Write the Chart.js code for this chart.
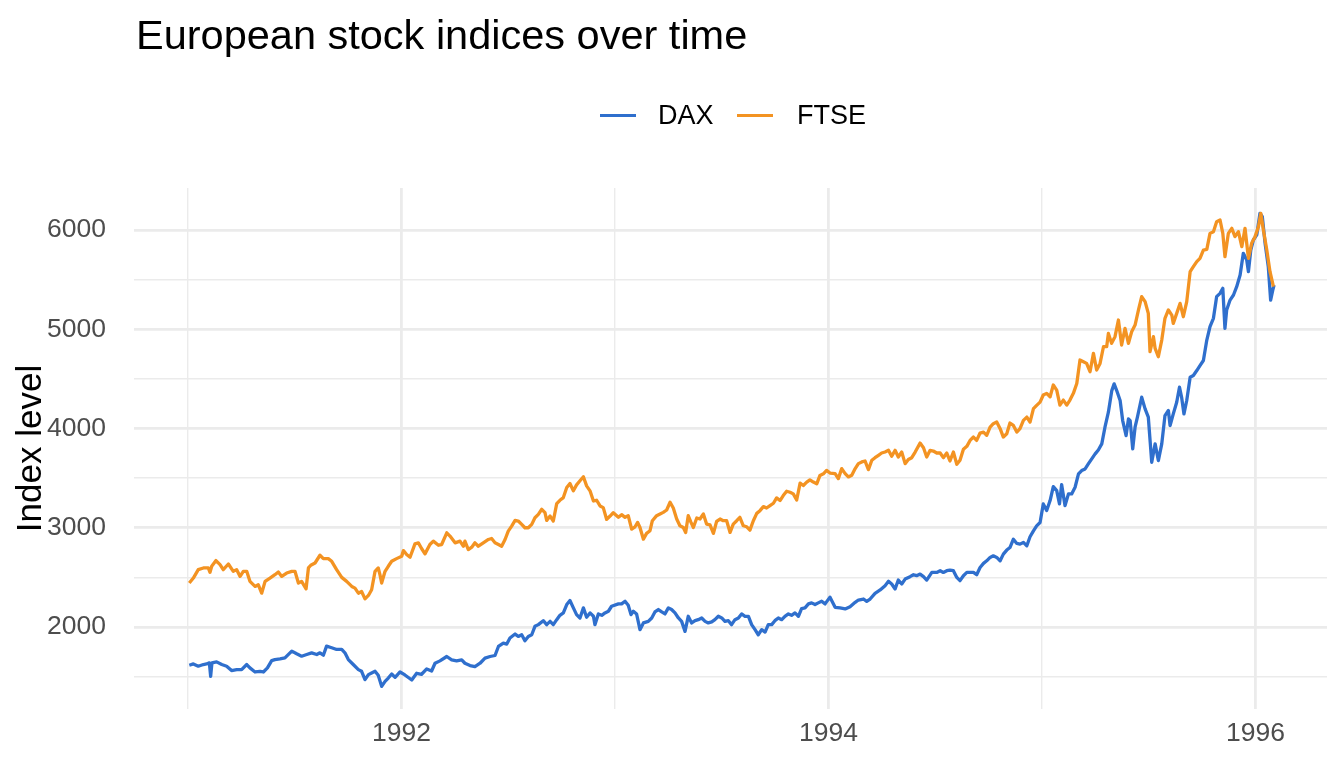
<!DOCTYPE html>
<html><head><meta charset="utf-8">
<script src="https://cdn.jsdelivr.net/npm/chart.js@4"></script>
<style>
html,body{margin:0;padding:0;background:#fff;}
#wrap{position:relative;width:1344px;height:768px;overflow:hidden;}
canvas{position:absolute;left:0;top:0;}
.t{position:absolute;font-family:"Liberation Sans",Arial,Helvetica,sans-serif;white-space:nowrap;}
.sw{position:absolute;height:3px;width:36px;}
</style></head><body>
<div id="wrap">
<canvas id="c" width="1344" height="768"></canvas>
<div class="t" id="title" style="left:136px;top:14px;font-size:41.5px;line-height:41px;color:#000">European stock indices over time</div>
</div>
<script>
const chartTitle = "European stock indices over time";
const yAxisTitle = "Index level";
const seriesNames = ["DAX", "FTSE"];
const seriesColors = ["#2F6FCD", "#F39322"];
const yTicks = [1500, 2000, 2500, 3000, 3500, 4000, 4500, 5000, 5500, 6000];
const xTicks = [1991, 1992, 1993, 1994, 1995, 1996];
const xTickLabels = [1992, 1994, 1996];

const daxYears = [
1991.006,1991.025,1991.048,1991.072,1991.087,1991.100,1991.106,1991.112,1991.134,1991.158,1991.181,1991.204,1991.228,1991.251,1991.275,1991.290,1991.314,1991.337,1991.353,1991.372,1991.392,1991.407,1991.431,1991.454,1991.486,1991.509,1991.532,1991.556,1991.579,1991.603,1991.618,1991.634,1991.649,1991.673,1991.696,1991.720,1991.735,1991.751,1991.774,1991.798,1991.813,1991.829,1991.845,1991.860,1991.876,1991.891,1991.907,1991.923,1991.938,1991.954,1991.970,1991.993,
1992.016,1992.048,1992.071,1992.094,1992.118,1992.141,1992.157,1992.180,1992.212,1992.235,1992.258,1992.282,1992.297,1992.321,1992.344,1992.368,1992.391,1992.415,1992.438,1992.454,1992.477,1992.493,1992.508,1992.532,1992.547,1992.563,1992.578,1992.594,1992.610,1992.625,1992.641,1992.664,1992.680,1992.696,1992.711,1992.727,1992.742,1992.758,1992.774,1992.789,1992.805,1992.820,1992.836,1992.852,1992.867,1992.883,1992.899,1992.906,1992.922,1992.938,1992.953,1992.969,1992.984,
1993.016,1993.031,1993.047,1993.062,1993.075,1993.086,1993.101,1993.117,1993.133,1993.156,1993.172,1993.187,1993.203,1993.219,1993.234,1993.250,1993.265,1993.281,1993.297,1993.312,1993.328,1993.343,1993.359,1993.375,1993.390,1993.406,1993.422,1993.437,1993.453,1993.468,1993.484,1993.500,1993.515,1993.531,1993.546,1993.562,1993.578,1993.593,1993.609,1993.625,1993.640,1993.656,1993.671,1993.687,1993.703,1993.718,1993.734,1993.749,1993.765,1993.781,1993.796,1993.812,1993.827,1993.843,1993.859,1993.874,1993.890,1993.906,1993.921,1993.937,1993.952,1993.968,1993.984,1994.007,
1994.031,1994.054,1994.078,1994.101,1994.125,1994.140,1994.164,1994.179,1994.195,1994.218,1994.242,1994.265,1994.281,1994.296,1994.312,1994.327,1994.343,1994.359,1994.382,1994.398,1994.413,1994.429,1994.445,1994.460,1994.484,1994.507,1994.523,1994.538,1994.554,1994.569,1994.585,1994.601,1994.616,1994.632,1994.648,1994.663,1994.679,1994.694,1994.710,1994.726,1994.741,1994.757,1994.772,1994.788,1994.804,1994.819,1994.835,1994.850,1994.866,1994.882,1994.897,1994.913,1994.929,1994.944,1994.960,1994.975,1994.991,
1995.006,1995.022,1995.038,1995.053,1995.069,1995.082,1995.092,1995.108,1995.124,1995.139,1995.155,1995.171,1995.186,1995.202,1995.217,1995.233,1995.249,1995.264,1995.280,1995.295,1995.311,1995.327,1995.338,1995.350,1995.366,1995.378,1995.394,1995.405,1995.413,1995.425,1995.436,1995.447,1995.467,1995.483,1995.498,1995.514,1995.530,1995.545,1995.561,1995.576,1995.592,1995.600,1995.615,1995.631,1995.644,1995.654,1995.665,1995.678,1995.694,1995.709,1995.725,1995.740,1995.756,
1995.772,1995.787,1995.803,1995.818,1995.834,1995.847,1995.857,1995.865,1995.881,1995.897,1995.912,1995.928,1995.943,1995.959,1995.967,1995.978,1995.990,1996.006,1996.021,1996.032,1996.045,1996.060,1996.071,1996.081,1996.087];
const daxValues = [
1615,1628,1605,1622,1628,1639,1503,1639,1649,1622,1605,1561,1571,1571,1622,1588,1547,1554,1547,1588,1662,1672,1679,1689,1757,1730,1706,1723,1740,1723,1740,1716,1807,1791,1774,1774,1740,1672,1622,1571,1554,1470,1520,1537,1554,1514,1402,1453,1486,1527,1493,1547,
1517,1466,1534,1524,1578,1557,1635,1659,1703,1669,1659,1669,1635,1612,1601,1635,1686,1703,1713,1804,1838,1828,1889,1929,1905,1922,1861,1905,1922,2007,2024,2064,2024,2057,2024,2074,2118,2142,2226,2267,2193,2125,2091,2193,2098,2142,2108,2024,2132,2118,2142,2159,2209,
2233,2233,2260,2220,2125,2159,2132,1973,2041,2057,2091,2152,2176,2152,2132,2193,2176,2142,2091,2057,1956,2108,2041,2064,2074,2091,2057,2041,2051,2074,2108,2091,2057,2064,2024,2074,2091,2132,2108,2108,2024,1973,1922,1973,1949,2024,2024,2064,2091,2074,2108,2132,2118,2142,2108,2186,2193,2233,2243,2226,2243,2260,2233,2301,
2199,2192,2182,2205,2249,2272,2282,2259,2282,2339,2373,2416,2460,2433,2383,2473,2433,2483,2507,2527,2517,2533,2507,2473,2550,2550,2567,2550,2567,2574,2567,2500,2467,2517,2550,2550,2550,2527,2600,2641,2667,2701,2717,2701,2667,2734,2775,2801,2885,2842,2835,2852,2818,2909,2969,3019,3053,
3240,3173,3274,3415,3374,3240,3435,3223,3341,3341,3408,3542,3576,3593,3643,3694,3744,3784,3845,4013,4164,4382,4450,4382,4282,4080,3929,4097,4080,3794,4013,4114,4315,4198,4114,3660,3845,3677,3845,4130,4181,4030,4147,4265,4416,4315,4147,4282,4517,4534,4584,4634,4685,
4891,5026,5110,5328,5362,5412,5009,5194,5294,5345,5429,5546,5765,5698,5580,5798,5899,5950,6168,6134,5866,5630,5294,5395,5446];

const ftseYears = [
1991.006,1991.025,1991.048,1991.072,1991.095,1991.103,1991.111,1991.131,1991.150,1991.165,1991.189,1991.212,1991.228,1991.244,1991.259,1991.275,1991.290,1991.314,1991.329,1991.345,1991.361,1991.384,1991.407,1991.423,1991.439,1991.462,1991.486,1991.501,1991.517,1991.532,1991.553,1991.564,1991.575,1991.595,1991.618,1991.634,1991.657,1991.673,1991.696,1991.720,1991.743,1991.767,1991.782,1991.798,1991.813,1991.829,1991.845,1991.860,1991.876,1991.891,1991.899,1991.907,1991.923,1991.938,1991.954,1991.977,1992.001,
1992.009,1992.024,1992.040,1992.063,1992.079,1992.094,1992.110,1992.133,1992.149,1992.173,1992.188,1992.212,1992.227,1992.251,1992.274,1992.290,1992.297,1992.313,1992.329,1992.344,1992.360,1992.383,1992.407,1992.422,1992.438,1992.454,1992.469,1992.485,1992.500,1992.516,1992.532,1992.547,1992.563,1992.578,1992.594,1992.610,1992.625,1992.641,1992.657,1992.672,1992.680,1992.696,1992.711,1992.727,1992.742,1992.758,1992.774,1992.789,1992.805,1992.820,1992.836,1992.852,1992.867,1992.883,1992.899,1992.914,1992.930,1992.945,1992.961,1992.977,1992.992,
1993.016,1993.031,1993.047,1993.062,1993.078,1993.094,1993.106,1993.117,1993.133,1993.148,1993.164,1993.175,1993.195,1993.211,1993.226,1993.242,1993.258,1993.273,1993.289,1993.304,1993.320,1993.331,1993.343,1993.356,1993.367,1993.383,1993.398,1993.414,1993.429,1993.445,1993.461,1993.476,1993.492,1993.507,1993.523,1993.539,1993.554,1993.570,1993.585,1993.601,1993.617,1993.632,1993.648,1993.664,1993.679,1993.695,1993.710,1993.726,1993.742,1993.757,1993.773,1993.788,1993.804,1993.820,1993.835,1993.851,1993.867,1993.882,1993.898,1993.913,1993.929,1993.945,1993.960,1993.976,1993.991,1994.007,
1994.031,1994.046,1994.062,1994.078,1994.093,1994.109,1994.125,1994.140,1994.156,1994.171,1994.187,1994.203,1994.218,1994.234,1994.249,1994.265,1994.281,1994.296,1994.312,1994.327,1994.343,1994.359,1994.374,1994.390,1994.406,1994.429,1994.445,1994.460,1994.476,1994.491,1994.507,1994.523,1994.538,1994.554,1994.569,1994.585,1994.601,1994.616,1994.632,1994.648,1994.663,1994.679,1994.694,1994.710,1994.726,1994.741,1994.757,1994.772,1994.788,1994.804,1994.819,1994.835,1994.850,1994.866,1994.882,1994.897,1994.913,1994.929,1994.944,1994.960,1994.975,1994.991,
1995.006,1995.022,1995.038,1995.053,1995.069,1995.084,1995.100,1995.116,1995.131,1995.147,1995.163,1995.178,1995.194,1995.209,1995.225,1995.241,1995.256,1995.272,1995.288,1995.303,1995.311,1995.326,1995.342,1995.358,1995.373,1995.389,1995.405,1995.420,1995.436,1995.452,1995.467,1995.483,1995.498,1995.506,1995.522,1995.530,1995.545,1995.561,1995.576,1995.592,1995.608,1995.615,1995.631,1995.647,1995.662,1995.678,1995.694,1995.709,1995.725,1995.740,1995.756,1995.772,1995.787,1995.803,1995.818,1995.834,1995.847,1995.857,1995.873,1995.889,1995.904,1995.920,1995.936,1995.951,1995.967,1995.982,1995.998,1996.014,1996.025,1996.037,1996.053,1996.068,1996.084];
const ftseValues = [
2443,2493,2578,2595,2595,2551,2612,2669,2628,2578,2635,2561,2578,2510,2561,2561,2460,2409,2426,2341,2460,2493,2527,2554,2510,2544,2561,2561,2443,2460,2385,2595,2622,2645,2723,2689,2689,2662,2578,2500,2460,2409,2392,2341,2358,2284,2318,2375,2561,2595,2527,2443,2561,2612,2662,2689,2713,
2770,2730,2703,2838,2848,2791,2737,2831,2865,2824,2831,2949,2916,2848,2865,2814,2865,2780,2804,2848,2814,2848,2882,2892,2848,2831,2814,2882,2966,3017,3074,3068,3034,3000,3000,3034,3101,3135,3186,3152,3074,3118,3068,3243,3277,3304,3405,3446,3372,3432,3473,3514,3422,3372,3270,3277,3220,3203,3084,3118,3152,
3105,3132,3105,3122,2987,3010,3054,3003,2885,2943,2970,3071,3122,3139,3155,3179,3257,3199,3088,3020,3003,2953,3122,3054,3003,3098,3088,3139,3037,3030,2943,3064,3088,3071,3071,2953,3037,3071,3105,3020,3010,2976,3071,3145,3172,3213,3199,3223,3247,3301,3274,3324,3368,3358,3341,3280,3449,3426,3460,3483,3460,3443,3527,3544,3578,3551,
3546,3495,3596,3546,3512,3529,3596,3646,3663,3673,3586,3680,3706,3730,3753,3763,3780,3720,3780,3713,3763,3646,3687,3706,3763,3853,3806,3713,3780,3773,3753,3753,3706,3753,3673,3763,3639,3680,3790,3820,3880,3914,3880,3954,3964,3931,4014,4048,4065,3998,3914,3947,4055,4031,3964,3998,4082,4115,4065,4200,4233,4266,
4337,4354,4320,4438,4387,4236,4286,4236,4286,4354,4454,4690,4673,4656,4572,4757,4589,4656,4824,4824,4958,4858,4925,5093,4841,5009,4858,4975,5042,5194,5328,5278,5160,4774,4925,4807,4723,4891,5110,5194,5143,5059,5160,5261,5126,5278,5580,5630,5681,5714,5798,5805,5966,5983,6084,6101,5966,5731,5966,6017,5933,5983,5832,6017,5714,5866,5933,6034,6168,6000,5798,5580,5429];

const FONT = '"Liberation Sans", Arial, Helvetica, sans-serif';

// HTML legend
const wrap = document.getElementById('wrap');
const legendPos = [{sw:600, tx:658}, {sw:737, tx:797}];
seriesNames.forEach((name, i) => {
  const s = document.createElement('div');
  s.className = 'sw';
  s.style.left = legendPos[i].sw + 'px';
  s.style.top = '113.5px';
  s.style.background = seriesColors[i];
  wrap.appendChild(s);
  const t = document.createElement('div');
  t.className = 't';
  t.style.left = legendPos[i].tx + 'px';
  t.style.top = '102px';
  t.style.fontSize = '27px';
  t.style.lineHeight = '27px';
  t.style.color = '#000';
  t.textContent = name;
  wrap.appendChild(t);
});

const toPoints = (xs, ys) => xs.map((x, i) => ({x: x, y: ys[i]}));

new Chart(document.getElementById('c').getContext('2d'), {
  type: 'line',
  data: {
    datasets: [
      {label: seriesNames[0], data: toPoints(daxYears, daxValues), borderColor: seriesColors[0], backgroundColor: seriesColors[0], borderWidth: 3.3, pointRadius: 0, tension: 0, fill: false, order: 1, borderJoinStyle: 'round'},
      {label: seriesNames[1], data: toPoints(ftseYears, ftseValues), borderColor: seriesColors[1], backgroundColor: seriesColors[1], borderWidth: 3.3, pointRadius: 0, tension: 0, fill: false, order: 0, borderJoinStyle: 'round'}
    ]
  },
  options: {
    responsive: false,
    animation: false,
    devicePixelRatio: 1,
    layout: {padding: {top: 188, right: 17, bottom: 0, left: 0}},
    plugins: {legend: {display: false}, title: {display: false}, tooltip: {enabled: false}},
    scales: {
      x: {
        type: 'linear', min: 1990.747, max: 1996.335,
        afterBuildTicks: s => { s.ticks = xTicks.map(v => ({value: v})); },
        afterFit: s => { s.height = 59; },
        ticks: {
          autoSkip: false, maxRotation: 0, minRotation: 0, padding: 9,
          color: '#4D4D4D', font: {family: FONT, size: 26.5},
          callback: v => xTickLabels.includes(v) ? String(v) : ''
        },
        grid: {color: '#EBEBEB', drawTicks: false, lineWidth: c => (c.tick && xTickLabels.includes(c.tick.value)) ? 2.8 : 1.4},
        border: {display: false}
      },
      y: {
        type: 'linear', min: 1174, max: 6423,
        afterBuildTicks: s => { s.ticks = yTicks.map(v => ({value: v})); },
        afterFit: s => { s.width = 134; },
        ticks: {
          autoSkip: false, padding: 28,
          color: '#4D4D4D', font: {family: FONT, size: 26.5},
          callback: v => (v % 1000 === 0) ? String(v) : ''
        },
        title: {display: true, text: yAxisTitle, color: '#000', font: {family: FONT, size: 35}, padding: {top: 10, bottom: 0}},
        grid: {color: '#EBEBEB', drawTicks: false, lineWidth: c => (c.tick && c.tick.value % 1000 === 0) ? 2.8 : 1.4},
        border: {display: false}
      }
    }
  }
});
</script>
</body></html>
